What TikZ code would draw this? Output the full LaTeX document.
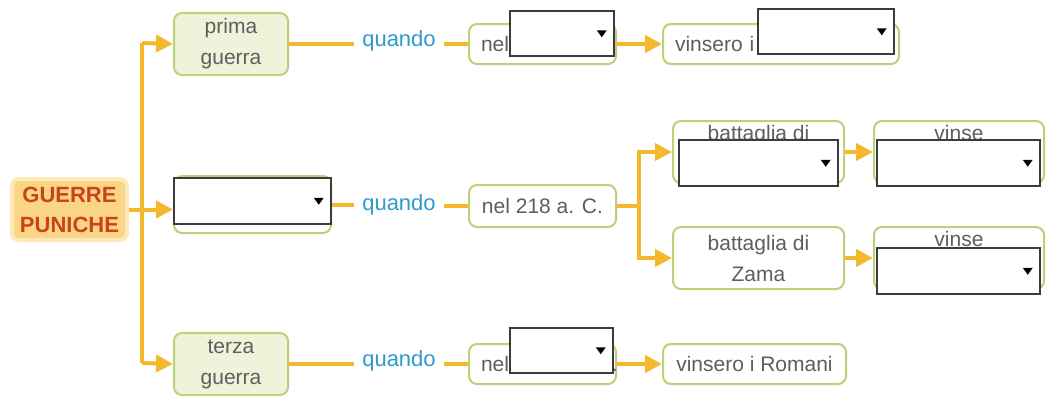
\documentclass[tikz,border=0pt]{standalone}
\usepackage{fontspec}
\setmainfont{Liberation Sans}
\usetikzlibrary{arrows.meta,shadows}
\definecolor{lineor}{HTML}{F4B82C}
\definecolor{gborder}{HTML}{BCD17A}
\definecolor{gfill}{HTML}{EFF3DA}
\definecolor{gtext}{HTML}{5E5E5E}
\definecolor{qblue}{HTML}{2F9AD0}
\definecolor{redor}{HTML}{C8431E}
\definecolor{gpfill}{HTML}{FAD584}
\definecolor{gpglow}{HTML}{FCE8B8}
\definecolor{ddgray}{HTML}{3C3C3C}
\begin{document}
\begin{tikzpicture}[x=1pt,y=-1pt,
  every node/.style={font=\fontsize{21}{31}\selectfont, text=gtext},
  box/.style={draw=gborder, line width=2pt, rounded corners=8pt, fill=white,
    anchor=north west, inner sep=0pt, align=center},
  gbox/.style={box, fill=gfill},
  leftbox/.style={box, align=left},
  topnote/.style={label={[anchor=north, inner sep=0pt, yshift=-5pt]north:#1}},
  gpbox/.style={fill=gpfill, draw=gpglow, line width=4pt, rounded corners=7pt,
    anchor=north west, inner sep=0pt, align=center, text=redor,
    font=\bfseries\fontsize{22}{30}\selectfont},
  qd/.style={text=qblue, inner xsep=8pt, inner ysep=2pt,
    font=\fontsize{22}{26}\selectfont},
  dd/.style={draw=ddgray, line width=1.5pt, fill=white, anchor=north west, inner sep=0pt,
    drop shadow={shadow xshift=1.5pt, shadow yshift=-1.5pt, opacity=0.3, fill=black},
    path picture={\fill[black] ([xshift=-17pt,yshift=3pt]path picture bounding box.east)
      -- ++(10pt,0pt) -- ++(-5pt,-7pt) -- cycle;}},
  ln/.style={draw=lineor, line width=4pt},
  arr/.style={ln, -{Triangle[length=17pt,width=17pt]}}
]
\useasboundingbox[fill=white] (0,0) rectangle (1050,399);

% root
\node[gpbox, minimum width=115pt, minimum height=61pt] (gp) at (10,177) {GUERRE\\PUNICHE};

% column 1
\node[gbox, minimum width=114pt, minimum height=62pt] (p1) at (173,12) {prima\\guerra};
\node[box, minimum width=157pt, minimum height=57pt] (p2) at (173,175) {};
\node[gbox, minimum width=114pt, minimum height=62pt] (p3) at (173,332) {terza\\guerra};

% quando
\node[qd] (q1) at (399,41) {quando};
\node[qd] (q2) at (399,205) {quando};
\node[qd] (q3) at (399,361) {quando};

% nel boxes
\node[leftbox, minimum width=147pt, minimum height=40pt, text width=123pt] (n1) at (468,23) {\raisebox{-4pt}{nel}};
\node[box, minimum width=147pt, minimum height=42pt] (n2) at (468,184) {nel 218 a. C.};
\node[leftbox, minimum width=147pt, minimum height=40pt, text width=123pt] (n3) at (468,343) {\raisebox{-4pt}{nel\,..................}};

% vinsero boxes
\node[leftbox, minimum width=236pt, minimum height=40pt, text width=212pt] (v1) at (662,23) {\raisebox{-2pt}{vinsero i}};
\node[box, minimum width=183pt, minimum height=40pt] (v3) at (662,343) {vinsero i Romani};

% battaglie
\node[box, minimum width=171pt, minimum height=62pt, topnote={battaglia di}] (b1) at (672,120) {};
\node[box, minimum width=170pt, minimum height=62pt, topnote={vinse}] (w1) at (873,120) {};
\node[box, minimum width=171pt, minimum height=62pt] (b2) at (672,226) {battaglia di\\Zama};
\node[box, minimum width=170pt, minimum height=62pt, topnote={vinse}] (w2) at (873,226) {};

% dropdowns
\node[dd, minimum width=157pt, minimum height=46pt] (d2) at (173,177) {};
\node[dd, minimum width=104pt, minimum height=45pt] (dn1) at (509,10) {};
\node[dd, minimum width=136pt, minimum height=45pt] (dv1) at (757,8) {};
\node[dd, minimum width=103pt, minimum height=45pt] (dn3) at (509,327) {};
\node[dd, minimum width=159pt, minimum height=46pt] (db1) at (678,139) {};
\node[dd, minimum width=163pt, minimum height=46pt] (dw1) at (876,139) {};
\node[dd, minimum width=163pt, minimum height=46pt] (dw2) at (876,247) {};

% connectors
\coordinate (t1) at (142,43);
\coordinate (t3) at (142,363);
\draw[ln] (t1) -- (t3);
\draw[arr] (t1) -- (p1.west);
\draw[arr] (gp.east) -- (gp.east -| p2.west);
\draw[arr] (t3) -- (p3.west);

\draw[ln] (p1.east) -- (p1.east -| q1.west);
\draw[ln] (q1.east |- n1.west) -- (n1.west);
\draw[arr] (n1.east) -- (v1.west);

\draw[ln] (p2.east) -- (p2.east -| q2.west);
\draw[ln] (q2.east |- n2.west) -- (n2.west);
\draw[ln] (n2.east) -- ++(22,0) coordinate (br);
\draw[arr] (br) |- (b1.west);
\draw[arr] (br) |- (b2.west);
\draw[arr] (b1.east) -- (w1.west);
\draw[arr] (b2.east) -- (w2.west);

\draw[ln] (p3.east) -- (p3.east -| q3.west);
\draw[ln] (q3.east |- n3.west) -- (n3.west);
\draw[arr] (n3.east) -- (v3.west);
\end{tikzpicture}
\end{document}
